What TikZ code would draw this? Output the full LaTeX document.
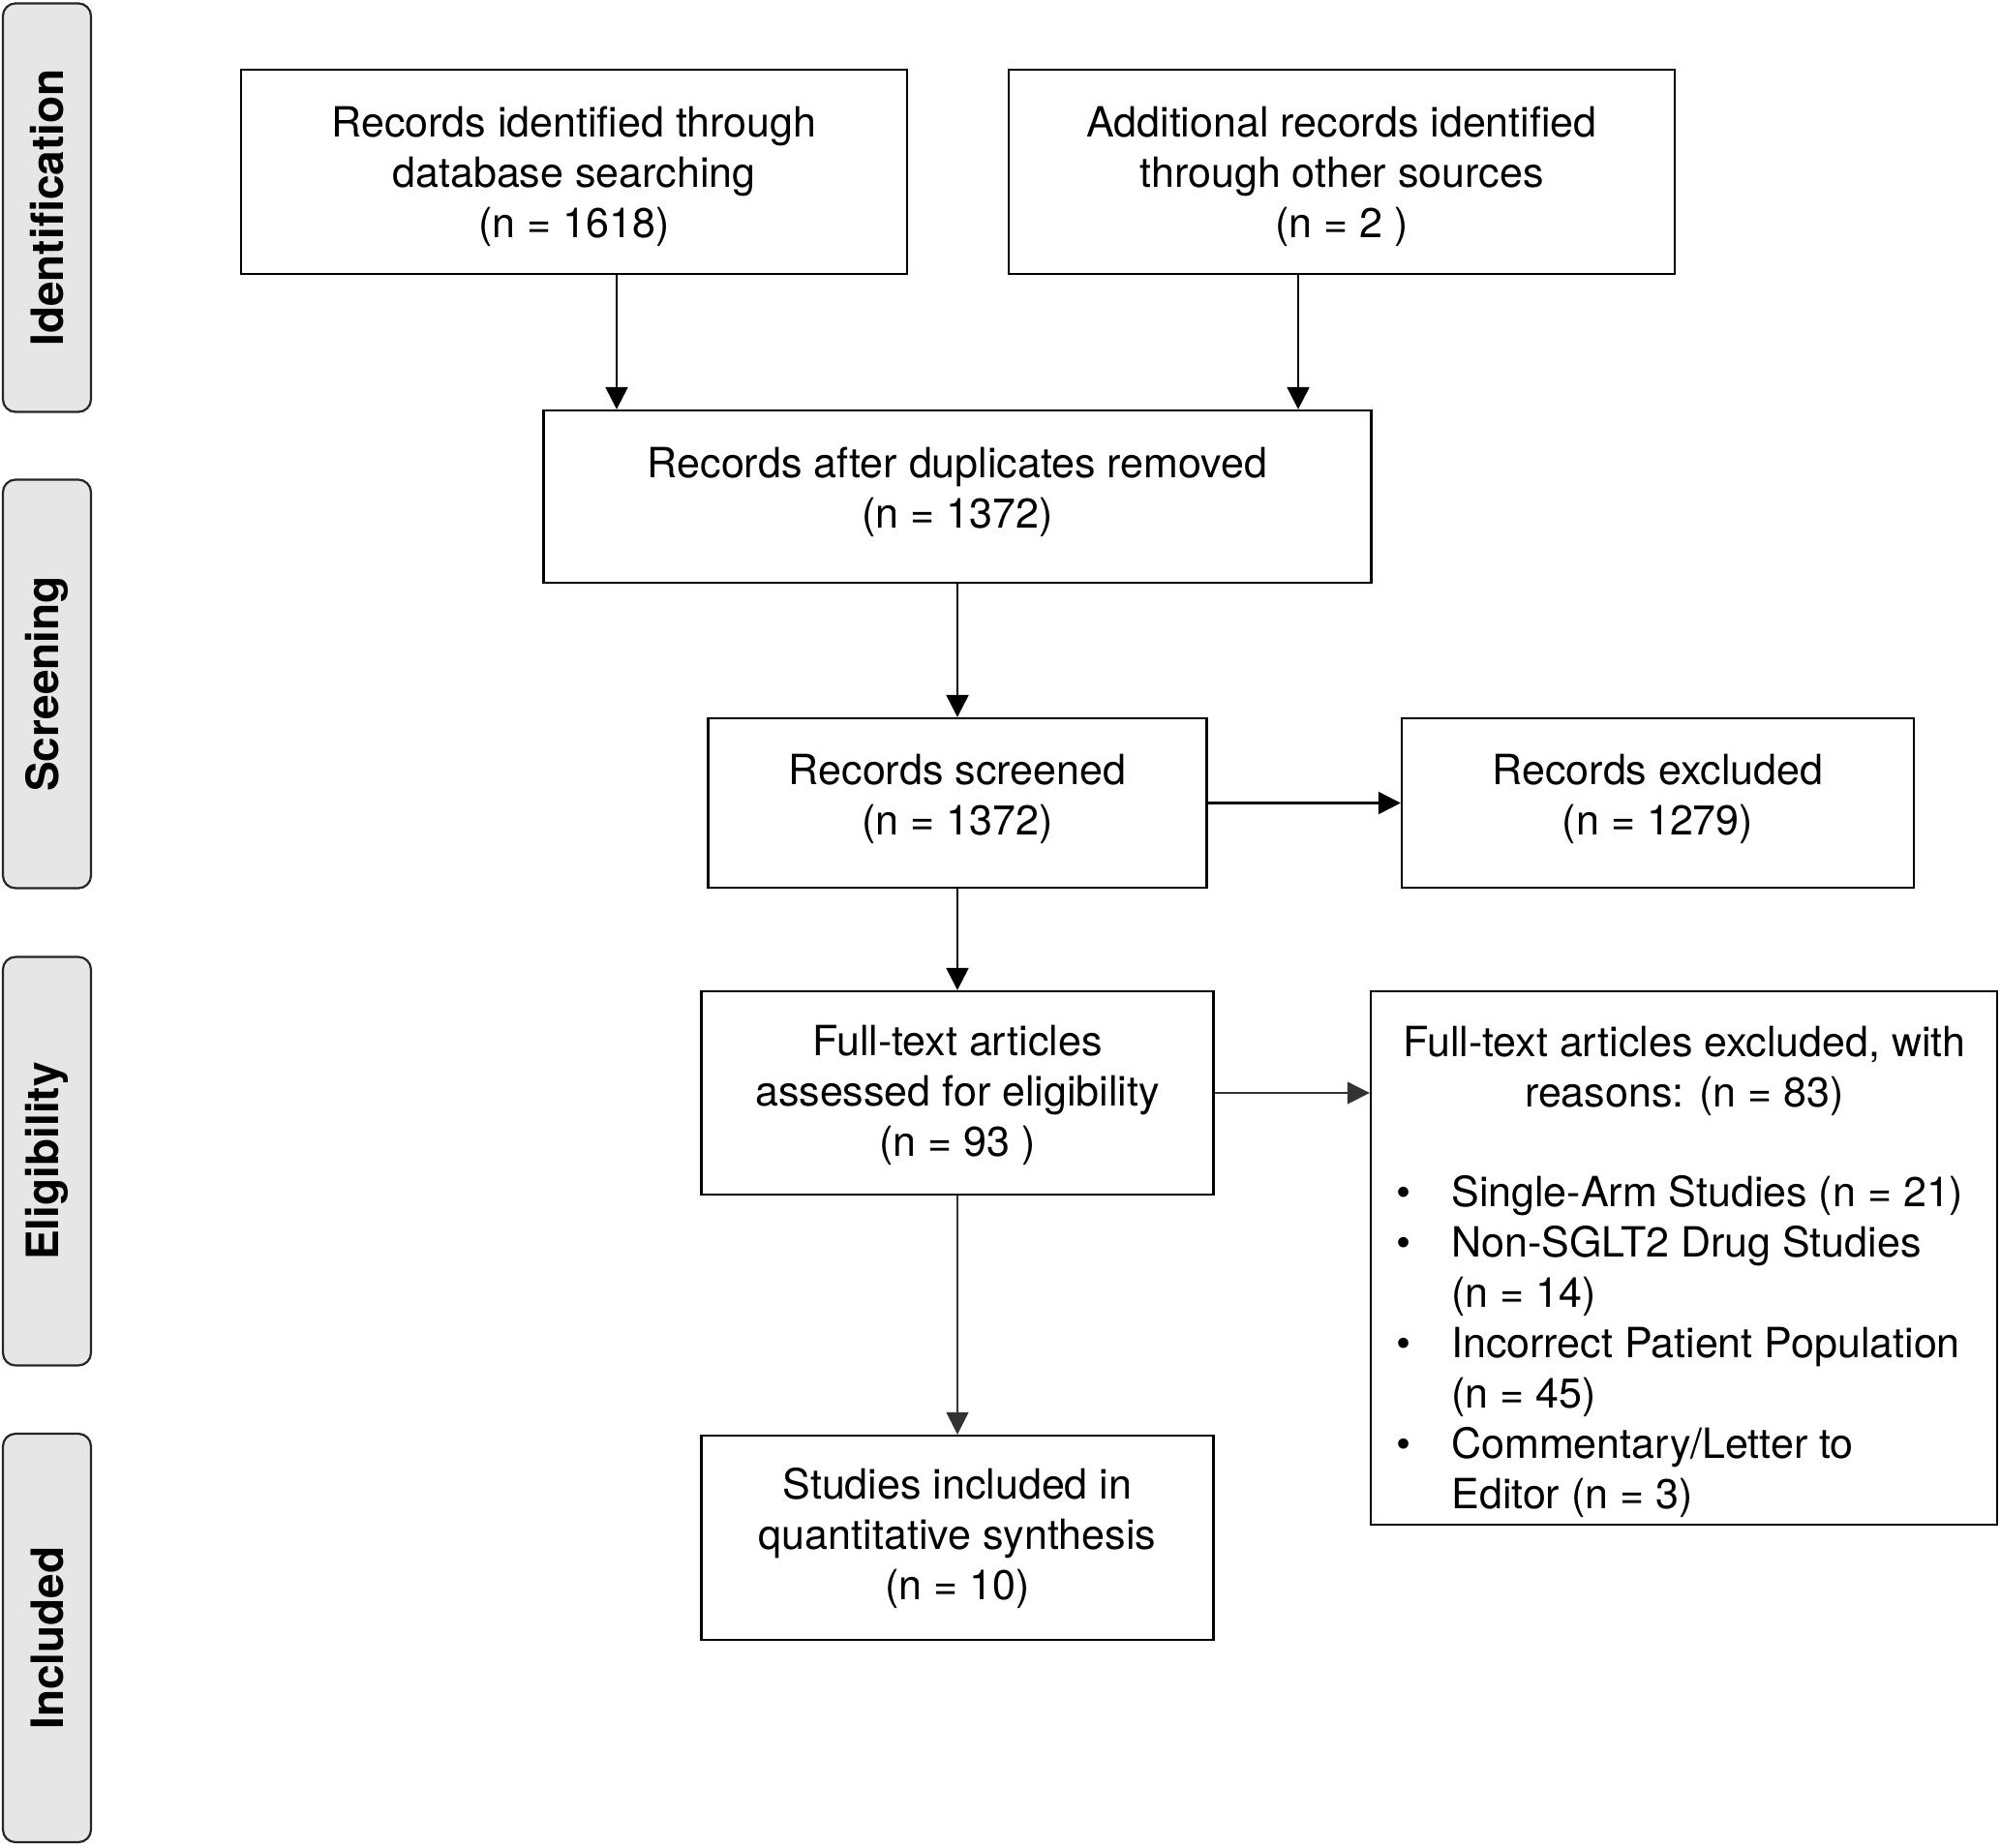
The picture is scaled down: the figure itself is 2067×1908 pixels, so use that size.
\documentclass[tikz,border=0pt]{standalone}
\usepackage{fontspec}
\setmainfont{TeX Gyre Heros}
\usetikzlibrary{arrows.meta}
\definecolor{sidegray}{RGB}{230,230,230}
\begin{document}
\begin{tikzpicture}[x=0.5pt,y=-0.5pt,
  box/.style={draw=black, line width=1.2pt, rectangle, inner sep=0pt},
  side/.style={draw=black!85, line width=1.1pt, fill=sidegray, rounded corners=6.5pt, rotate=90, minimum width=211pt, minimum height=45.5pt, inner sep=0pt, font=\fontsize{23}{27}\selectfont\bfseries},
  arr/.style={line width=1.2pt, -{Triangle[length=11.5pt,width=11.5pt]}},
  thinarr/.style={line width=0.6pt, draw=black!80, -{Triangle[length=11.5pt,width=11.5pt]}},
  txt/.style={inner sep=0pt, align=center, font=\fontsize{21.5}{26}\selectfont}
]
\useasboundingbox (0,0) rectangle (2067,1908);

\node[side] (sid) at (48.5,214.5) {Identification};
\node[side] (sscr) at (48.5,706.5) {Screening};
\node[side] (selig) at (48.5,1199.5) {Eligibility};
\node[side] (sinc) at (48.5,1692) {Included};

\node[box, minimum width=344pt, minimum height=105.5pt] (db) at (593,177.5) {};
\node[txt, yshift=-2.5pt] (dbt) at (db.center) {Records identified through\\database searching\\(n = 1618)};
\node[box, minimum width=344pt, minimum height=105.5pt] (other) at (1386,177.5) {};
\node[txt, yshift=-2.5pt] (othert) at (other.center) {Additional records identified\\through other sources\\(n = 2 )};
\node[box, minimum width=427.5pt, minimum height=89pt] (dup) at (989,513) {};
\node[txt, yshift=2.5pt] (dupt) at (dup.center) {Records after duplicates removed\\(n = 1372)};
\node[box, minimum width=257.5pt, minimum height=87.5pt] (scr) at (989,829.5) {};
\node[txt, yshift=2pt] (scrt) at (scr.center) {Records screened\\(n = 1372)};
\node[box, minimum width=264.5pt, minimum height=87.5pt] (exc) at (1712.5,829.5) {};
\node[txt, yshift=2pt] (exct) at (exc.center) {Records excluded\\(n = 1279)};
\node[box, minimum width=264.5pt, minimum height=105pt] (ft) at (989,1129) {};
\node[txt, yshift=-1.2pt] (ftt) at (ft.center) {Full-text articles\\assessed for eligibility\\(n = 93 )};
\node[box, minimum width=323.5pt, minimum height=275.5pt] (ftx) at (1739.5,1299.5) {};
\node[box, minimum width=264.5pt, minimum height=105.5pt] (inc) at (989,1588.5) {};
\node[txt] (inct) at (inc.center) {Studies included in\\quantitative synthesis\\(n = 10)};

\node[txt, anchor=base] (ftxh) at (1740,1091) {\begin{tabular}[t]{@{}c@{}}Full-text articles excluded, with\\reasons: (n = 83)\end{tabular}};
\node[txt, anchor=base west] (ftxl) at (1442,1246) {\begin{tabular}[t]{@{}p{28.5pt}@{}l@{}}•&Single-Arm Studies (n = 21)\\•&Non-SGLT2 Drug Studies\\&(n = 14)\\•&Incorrect Patient Population\\&(n = 45)\\•&Commentary/Letter to\\&Editor (n = 3)\end{tabular}};

\coordinate (a1) at (637,0);
\coordinate (a2) at (1341,0);
\draw[arr] (db.south -| a1) -- (dup.north -| a1);
\draw[arr] (other.south -| a2) -- (dup.north -| a2);
\draw[arr] (dup.south) -- (scr.north);
\draw[arr] (scr.east) -- (exc.west);
\draw[arr] (scr.south) -- (ft.north);
\draw[thinarr] (ft.south) -- (inc.north);
\draw[thinarr] (ft.east) -- (ft.east -| ftx.west);
\end{tikzpicture}
\end{document}
